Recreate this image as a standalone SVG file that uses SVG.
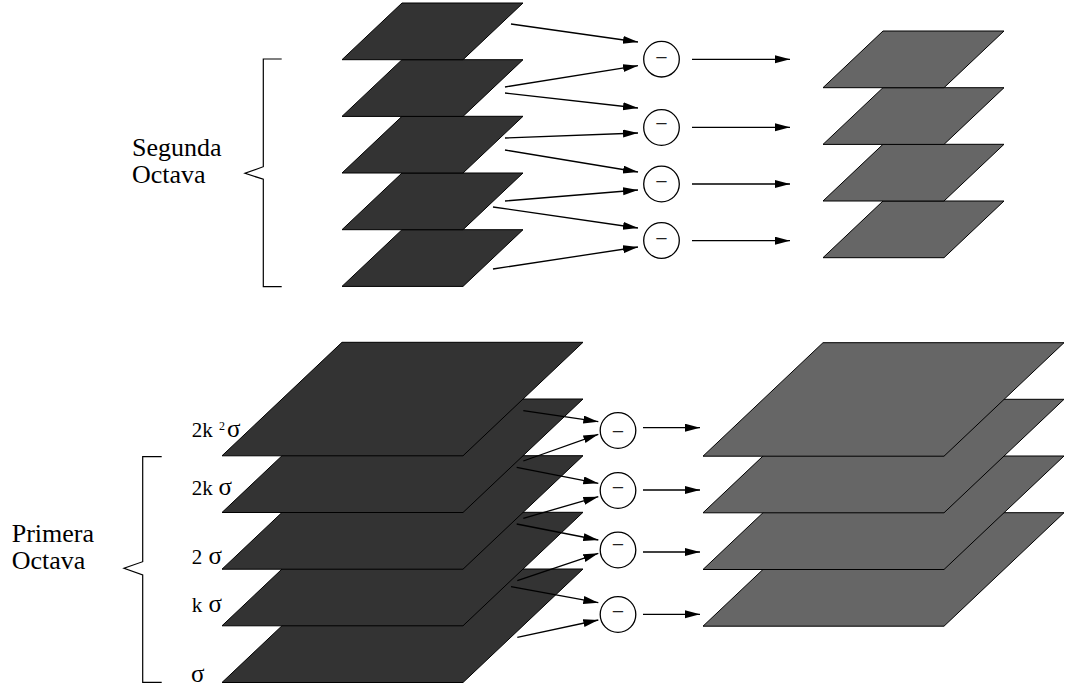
<svg xmlns="http://www.w3.org/2000/svg" width="1065" height="690" viewBox="0 0 1065 690">
  <style>
    .dark { fill: #333333; stroke: #000; stroke-width: 1; stroke-linejoin: miter; }
    .gray { fill: #666666; stroke: #000; stroke-width: 1; stroke-linejoin: miter; }
    .op { fill: #fff; stroke: #000; stroke-width: 1.3; }
    .opsign { font-family: "Liberation Serif", "Times New Roman", serif; font-size: 22px; text-anchor: middle; fill: #222; }
    .brace { fill: none; stroke: #000; stroke-width: 1.2; }
    .lbl { font-family: "Liberation Serif", "Times New Roman", serif; font-size: 26px; fill: #000; }
    .sig { font-family: "Liberation Serif", "Times New Roman", serif; font-size: 21px; fill: #000; }
    .greek { font-family: "Liberation Serif", "Times New Roman", serif; font-size: 25px; fill: #000; }
    .sup { font-family: "Liberation Serif", "Times New Roman", serif; font-size: 12px; fill: #000; }
    .conn line { stroke: #000; stroke-width: 1.3; marker-end: url(#head); }
  </style>
  <defs>
    <marker id="head" markerUnits="userSpaceOnUse" markerWidth="16" markerHeight="10" refX="15" refY="4" orient="auto">
      <path d="M0,0 L15,4 L0,8 z" fill="#000"/>
    </marker>
    <!-- small layer: width 121, shear 60, height 56.7 -->
    <path id="smallDark" d="M60,0 H181 L121,56.7 H0 Z"/>
    <!-- large layer: width 241, shear 120, height 113.5 -->
    <path id="bigLayer" d="M120,0 H361 L241,113.5 H0 Z"/>
  </defs>

  <!-- second octave: blurred images -->
  <g id="oct2-scales">
    <g id="oct2-s0"><use href="#smallDark" class="dark" x="342" y="229.7"/></g>
    <g id="oct2-s1"><use href="#smallDark" class="dark" x="342" y="173"/></g>
    <g id="oct2-s2"><use href="#smallDark" class="dark" x="342" y="116.3"/></g>
    <g id="oct2-s3"><use href="#smallDark" class="dark" x="342" y="59.7"/></g>
    <g id="oct2-s4"><use href="#smallDark" class="dark" x="342" y="3"/></g>
  </g>

  <!-- second octave: difference images -->
  <g id="oct2-dog">
    <g id="oct2-d0"><use href="#smallDark" class="gray" x="823" y="201"/></g>
    <g id="oct2-d1"><use href="#smallDark" class="gray" x="823" y="144.3"/></g>
    <g id="oct2-d2"><use href="#smallDark" class="gray" x="823" y="87.7"/></g>
    <g id="oct2-d3"><use href="#smallDark" class="gray" x="823" y="31"/></g>
  </g>

  <!-- second octave: subtraction nodes -->
  <g id="oct2-sub0"><circle class="op" cx="661.5" cy="59.2" r="17.8"/><text class="opsign" x="661.5" y="64.5">−</text></g>
  <g id="oct2-sub1"><circle class="op" cx="661.5" cy="127.5" r="17.8"/><text class="opsign" x="661.5" y="131.2">−</text></g>
  <g id="oct2-sub2"><circle class="op" cx="661.5" cy="184" r="17.8"/><text class="opsign" x="661.5" y="188.8">−</text></g>
  <g id="oct2-sub3"><circle class="op" cx="661.5" cy="240.5" r="17.8"/><text class="opsign" x="661.5" y="245.5">−</text></g>

  <!-- first octave: blurred images (bottom layer drawn first) -->
  <g id="oct1-scales">
    <g id="oct1-s0"><use href="#bigLayer" class="dark" x="222" y="569"/></g>
    <g id="oct1-s1"><use href="#bigLayer" class="dark" x="222" y="512.3"/></g>
    <g id="oct1-s2"><use href="#bigLayer" class="dark" x="222" y="455.7"/></g>
    <g id="oct1-s3"><use href="#bigLayer" class="dark" x="222" y="399"/></g>
    <g id="oct1-s4"><use href="#bigLayer" class="dark" x="222" y="342.3"/></g>
  </g>

  <!-- first octave: difference images -->
  <g id="oct1-dog">
    <g id="oct1-d0"><use href="#bigLayer" class="gray" x="703" y="512.7"/></g>
    <g id="oct1-d1"><use href="#bigLayer" class="gray" x="703" y="456"/></g>
    <g id="oct1-d2"><use href="#bigLayer" class="gray" x="703" y="399.3"/></g>
    <g id="oct1-d3"><use href="#bigLayer" class="gray" x="703" y="342.7"/></g>
  </g>

  <!-- first octave: subtraction nodes -->
  <g id="oct1-sub0"><circle class="op" cx="618" cy="430.5" r="17.8"/><text class="opsign" x="618" y="438.8">−</text></g>
  <g id="oct1-sub1"><circle class="op" cx="618" cy="490.5" r="17.8"/><text class="opsign" x="618" y="494.8">−</text></g>
  <g id="oct1-sub2"><circle class="op" cx="618" cy="550" r="17.8"/><text class="opsign" x="618" y="551.5">−</text></g>
  <g id="oct1-sub3"><circle class="op" cx="618" cy="614.5" r="17.8"/><text class="opsign" x="618" y="618.8">−</text></g>

  <!-- connectors -->
  <g id="connectors" class="conn">
    <!-- second octave: layers into subtractors -->
    <line x1="511" y1="24" x2="638" y2="42"/>
    <line x1="505" y1="87" x2="638" y2="65.7"/>
    <line x1="505" y1="93" x2="638" y2="108"/>
    <line x1="505" y1="138" x2="638" y2="133"/>
    <line x1="505" y1="150" x2="638" y2="172"/>
    <line x1="505" y1="201" x2="638" y2="190"/>
    <line x1="493" y1="207" x2="638" y2="228"/>
    <line x1="493" y1="269" x2="638" y2="247"/>
    <!-- second octave: subtractors to differences -->
    <line x1="692" y1="59.3" x2="790" y2="59.3"/>
    <line x1="692" y1="127.3" x2="790" y2="127.3"/>
    <line x1="692" y1="184" x2="790" y2="184"/>
    <line x1="692" y1="240.7" x2="790" y2="240.7"/>
    <!-- first octave: layers into subtractors -->
    <line x1="523.3" y1="410.7" x2="598.3" y2="421.7"/>
    <line x1="523.3" y1="461" x2="598.3" y2="434.3"/>
    <line x1="516.7" y1="467.3" x2="598.3" y2="483.3"/>
    <line x1="523.3" y1="518.3" x2="598.3" y2="496.7"/>
    <line x1="516.7" y1="524" x2="598.3" y2="540"/>
    <line x1="517.3" y1="580.7" x2="598.3" y2="553.3"/>
    <line x1="511" y1="586.7" x2="598.3" y2="602.7"/>
    <line x1="517.3" y1="637.3" x2="598.3" y2="620"/>
    <!-- first octave: subtractors to differences -->
    <line x1="643" y1="427.7" x2="700" y2="427.7"/>
    <line x1="643" y1="490" x2="700" y2="490"/>
    <line x1="643" y1="552" x2="700" y2="552"/>
    <line x1="643" y1="614.3" x2="700" y2="614.3"/>
  </g>

  <!-- octave braces and titles -->
  <g id="oct2-brace">
    <path class="brace" d="M281.7,59 H263.3 V166.7 L245,173.3 L263.3,179.3 V286.7 H281.7"/>
    <text class="lbl"><tspan x="132" y="156.2">Segunda</tspan><tspan x="132" y="182.8">Octava</tspan></text>
  </g>
  <g id="oct1-brace">
    <path class="brace" d="M161.7,456.7 H142.7 V561.7 L124,568.3 L142.7,575 V682.3 H161.7"/>
    <text class="lbl"><tspan x="11.7" y="542">Primera</tspan><tspan x="11.7" y="568.6">Octava</tspan></text>
  </g>

  <!-- scale labels -->
  <g id="scale-labels">
    <g id="lbl-2k2s"><text class="sig" x="191.7" y="437.3">2k</text><text class="sup" x="219" y="430">2</text><text class="greek" x="227" y="437.3">σ</text></g>
    <g id="lbl-2ks"><text class="sig" x="191.7" y="494.5">2k</text><text class="greek" x="218.5" y="494.5">σ</text></g>
    <g id="lbl-2s"><text class="sig" x="191.7" y="564">2</text><text class="greek" x="208.5" y="564">σ</text></g>
    <g id="lbl-ks"><text class="sig" x="191.7" y="612">k</text><text class="greek" x="208.5" y="612">σ</text></g>
    <g id="lbl-s"><text class="greek" x="191" y="682">σ</text></g>
  </g>
</svg>
